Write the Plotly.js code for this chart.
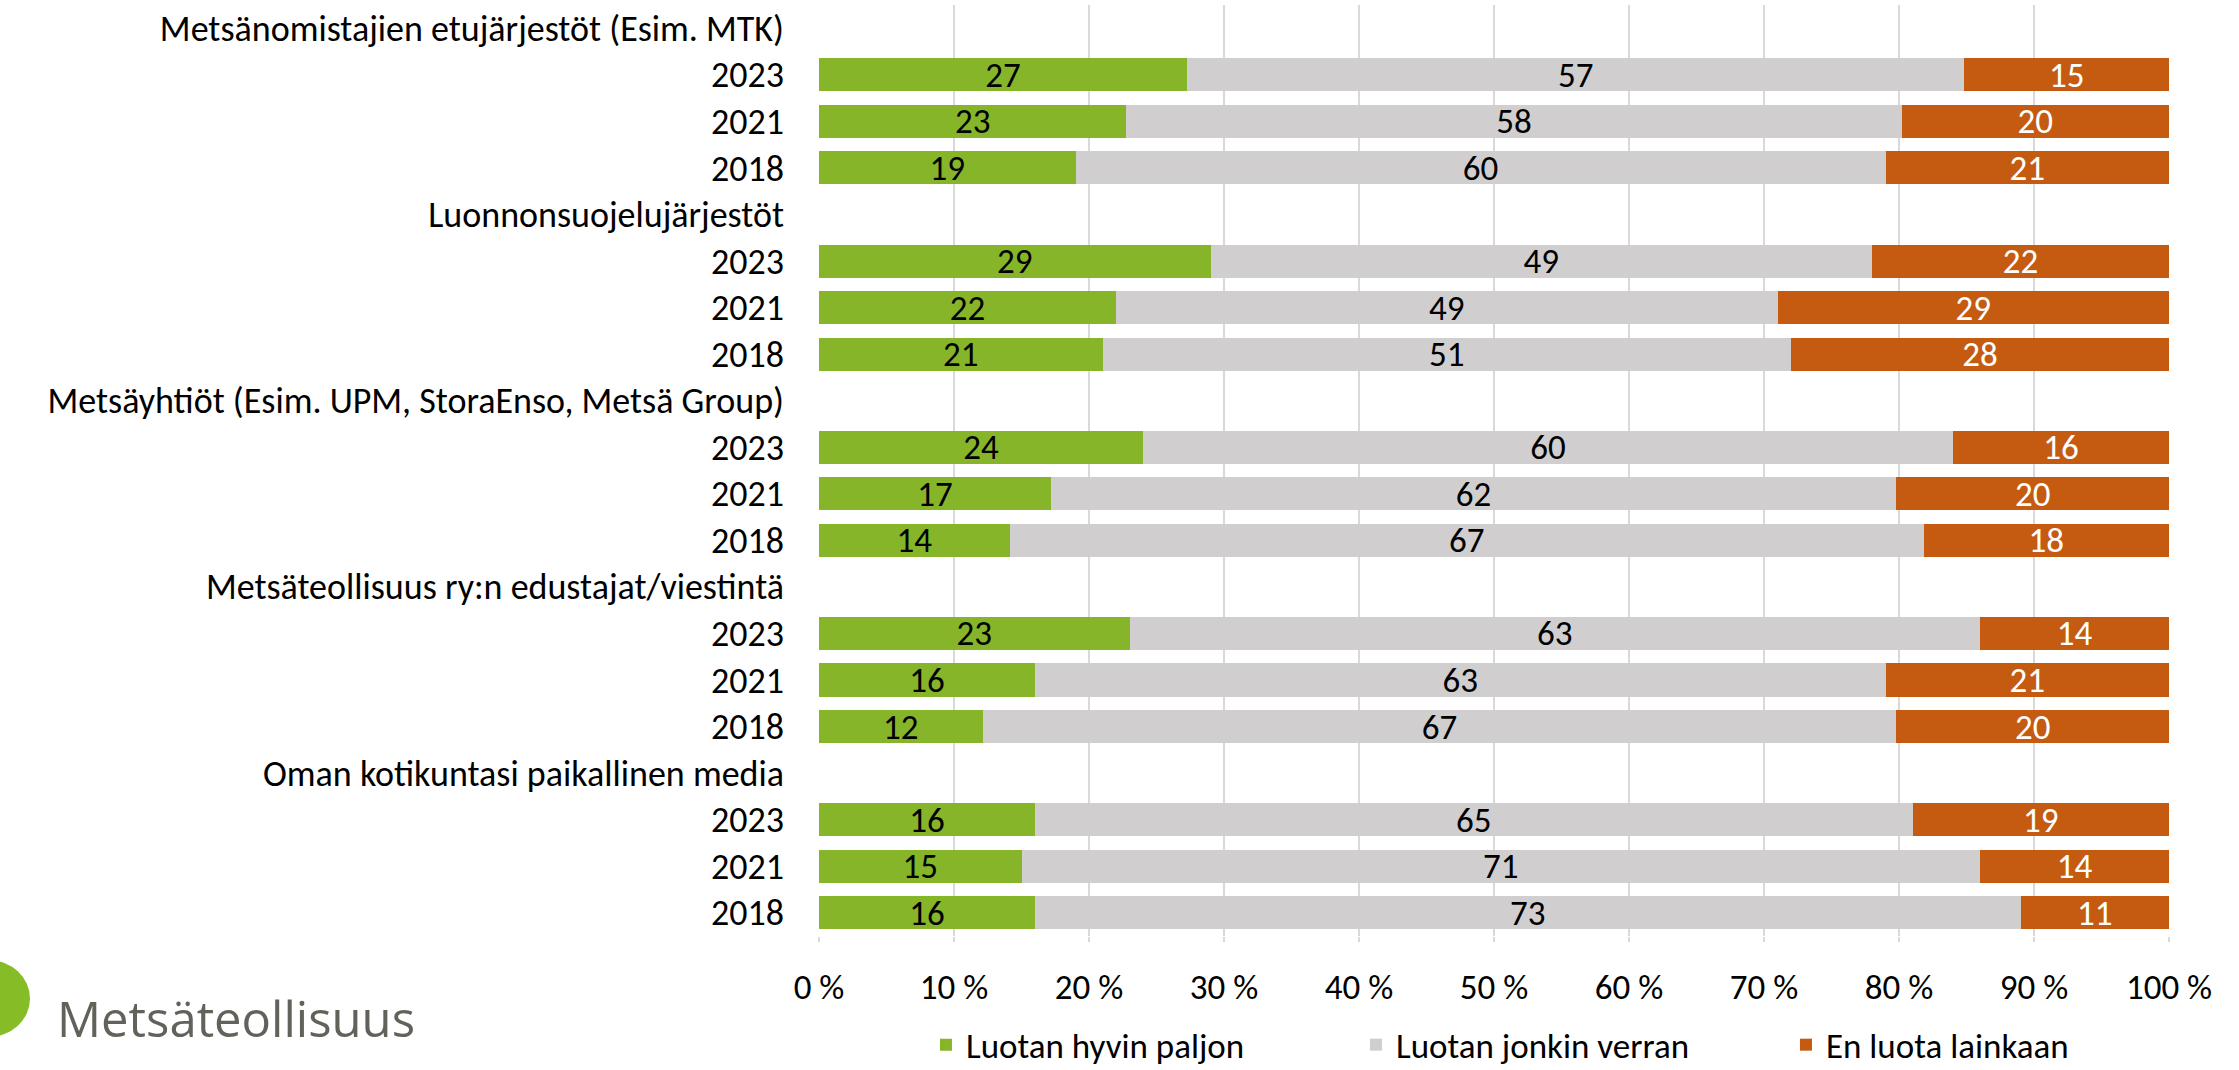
<!DOCTYPE html>
<html>
<head>
<meta charset="utf-8">
<script src="https://cdn.plot.ly/plotly-3.0.1.min.js"></script>
<style>
  html, body { margin: 0; padding: 0; background: #ffffff; }
  #chart { width: 2239px; height: 1070px; }
</style>
</head>
<body>
<div id="chart"></div>
<script>
// ---- Data ----
const groups = [
  "Metsänomistajien etujärjestöt (Esim. MTK)",
  "Luonnonsuojelujärjestöt",
  "Metsäyhtiöt (Esim. UPM, StoraEnso, Metsä Group)",
  "Metsäteollisuus ry:n edustajat/viestintä",
  "Oman kotikuntasi paikallinen media"
];
const years = ["2023", "2021", "2018"];
const seriesNames = ["Luotan hyvin paljon", "Luotan jonkin verran", "En luota lainkaan"];
const paljon = [27, 23, 19, 29, 22, 21, 24, 17, 14, 23, 16, 12, 16, 15, 16];
const jonkin = [57, 58, 60, 49, 49, 51, 60, 62, 67, 63, 63, 67, 65, 71, 73];
const eiLainkaan = [15, 20, 21, 22, 29, 28, 16, 20, 18, 14, 21, 20, 19, 14, 11];
const xTicks = [0, 10, 20, 30, 40, 50, 60, 70, 80, 90, 100];
const logoText = "Metsäteollisuus";

// ---- Build category keys ----
const catKeys = [], catLabels = [], dataKeys = [];
groups.forEach((g, gi) => {
  catKeys.push("g" + gi + "-h"); catLabels.push(g);
  years.forEach((y, yi) => {
    const k = "g" + gi + "-" + yi;
    catKeys.push(k); catLabels.push(y); dataKeys.push(k);
  });
});

const FONT = "Calibri, Carlito, Lato, sans-serif";
const FS = 36;
const colors = ["#86b52a", "#d0cecf", "#c55a11"];
const textColors = ["#000000", "#000000", "#ffffff"];
const values = [paljon, jonkin, eiLainkaan];

const traces = values.map((v, i) => ({
  type: "bar",
  orientation: "h",
  name: seriesNames[i],
  y: dataKeys,
  x: v,
  text: v.map(String),
  texttemplate: "%{text}",
  textposition: "inside",
  insidetextanchor: "middle",
  textangle: 0,
  constraintext: "none",
  insidetextfont: { family: FONT, size: 35, color: textColors[i] },
  marker: { color: colors[i], line: { width: 0 } },
  hoverinfo: "skip"
}));

const layout = {
  width: 2239,
  height: 1070,
  paper_bgcolor: "#ffffff",
  plot_bgcolor: "#ffffff",
  font: { family: FONT, size: FS, color: "#000000" },
  margin: { l: 819, r: 70, t: 5, b: 134, pad: 0, autoexpand: false },
  barmode: "stack",
  barnorm: "percent",
  bargap: 0.29,
  showlegend: true,
  legend: {
    orientation: "h",
    x: 0.557, xanchor: "center",
    y: -0.117, yanchor: "middle",
    font: { family: FONT, size: 35, color: "#000000" },
    entrywidth: 385,
    entrywidthmode: "pixels",
    traceorder: "normal",
    bgcolor: "rgba(0,0,0,0)"
  },
  xaxis: {
    range: [0, 100],
    tickvals: xTicks,
    ticktext: xTicks.map(t => t + " %"),
    showgrid: true,
    gridcolor: "#d9d9d9",
    gridwidth: 2,
    zeroline: false,
    showline: false,
    ticks: "outside",
    ticklen: 5,
    tickwidth: 2,
    tickcolor: "#d9d9d9",
    ticklabelstandoff: 15,
    tickfont: { family: FONT, size: 35, color: "#000000" },
    fixedrange: true
  },
  yaxis: {
    type: "category",
    categoryorder: "array",
    categoryarray: catKeys,
    tickvals: catKeys,
    ticktext: catLabels,
    autorange: false,
    range: [catKeys.length - 0.5, -0.5],
    showgrid: false,
    zeroline: false,
    showline: false,
    ticks: "",
    ticklabelstandoff: 34,
    tickfont: { family: FONT, size: FS, color: "#000000" },
    fixedrange: true
  },
  shapes: [
    {
      type: "circle",
      xref: "paper", yref: "paper",
      xsizemode: "pixel", ysizemode: "pixel",
      xanchor: 0, yanchor: 0,
      x0: -872, x1: -789, y0: -24, y1: -101,
      fillcolor: "#86bc25",
      line: { width: 0 }
    }
  ],
  annotations: [
    {
      text: logoText,
      xref: "paper", yref: "paper",
      x: 0, y: 0,
      xanchor: "left", yanchor: "middle",
      xshift: -764, yshift: -82,
      showarrow: false,
      font: { family: "Open Sans, sans-serif", size: 49, color: "#62625a" }
    }
  ]
};

Plotly.newPlot("chart", traces, layout, { displayModeBar: false, staticPlot: true });
</script>
</body>
</html>
